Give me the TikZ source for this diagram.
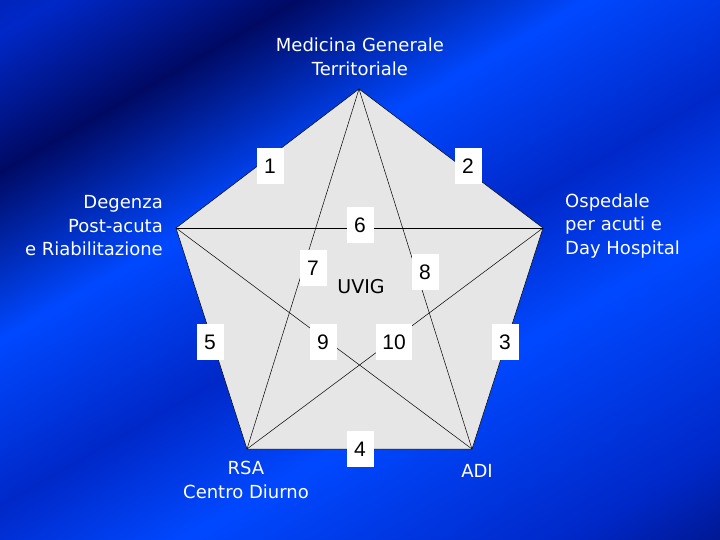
\documentclass[tikz,border=0pt]{standalone}
\usepackage{fontspec}
\setmainfont{DejaVu Sans}
\newfontfamily\numfont{Liberation Sans}
\definecolor{bgdark}{RGB}{0,10,100}
\definecolor{bgmid}{RGB}{0,40,200}
\definecolor{bgbright}{RGB}{0,72,255}
\definecolor{penta}{RGB}{230,230,230}
\pgfdeclarehorizontalshading{bgshade}{100bp}{color(0bp)=(bgdark); color(18bp)=(bgmid); color(28bp)=(bgdark); color(40bp)=(bgbright); color(52bp)=(bgmid); color(62bp)=(bgbright); color(78bp)=(bgmid); color(90bp)=(bgdark); color(100bp)=(bgdark)}
\tikzset{
  numbox/.style={fill=white, minimum width=27pt, minimum height=36pt, inner sep=0pt, font=\numfont\fontsize{21}{21}\selectfont},
  lbl/.style={text=white, font=\fontsize{18}{23.5}\selectfont, inner sep=0pt, align=center},
  edge/.style={draw=black, line width=0.5pt},
}
\begin{document}
\begin{tikzpicture}[x=1pt,y=-1pt]
\useasboundingbox (0,0) rectangle (720,540);
\shade[shading=bgshade, shading angle=-60] (0,0) rectangle (720,540);
\coordinate (T) at (359,89);
\coordinate (R) at (543,228);
\coordinate (A) at (472,449);
\coordinate (S) at (247,449);
\coordinate (L) at (176,228);
\fill[penta] (T) -- (R) -- (A) -- (S) -- (L) -- cycle;
\draw[edge] (T) -- (R) -- (A) -- (S) -- (L) -- cycle;
\draw[edge] (L) -- (R);
\draw[edge] (T) -- (S);
\draw[edge] (T) -- (A);
\draw[edge] (L) -- (A);
\draw[edge] (R) -- (S);
\node[numbox] (n1) at (270,166) {1};
\node[numbox] (n2) at (468,166) {2};
\node[numbox] (n6) at (360,225) {6};
\node[numbox] (n7) at (313,268) {7};
\node[numbox] (n8) at (425,272) {8};
\node[numbox] (n5) at (210,342) {5};
\node[numbox] (n9) at (323,342) {9};
\node[numbox, minimum width=36pt] (n10) at (394,342) {10};
\node[numbox] (n3) at (505,342) {3};
\node[numbox] (n4) at (360,449) {4};
\node[font=\fontsize{19}{20}\selectfont, inner sep=0pt] (uvig) at (361,287) {UVIG};
\node[lbl] (mg) at (360,57) {Medicina Generale\\Territoriale};
\node[lbl, align=right, anchor=east] (dg) at (163,226) {Degenza\\Post-acuta\\e Riabilitazione};
\node[lbl, align=left, anchor=west] (os) at (565,226) {Ospedale\\per acuti e\\Day Hospital};
\node[lbl] (rsa) at (246,480) {RSA\\Centro Diurno};
\node[lbl] (adi) at (477,471) {ADI};
\end{tikzpicture}
\end{document}
